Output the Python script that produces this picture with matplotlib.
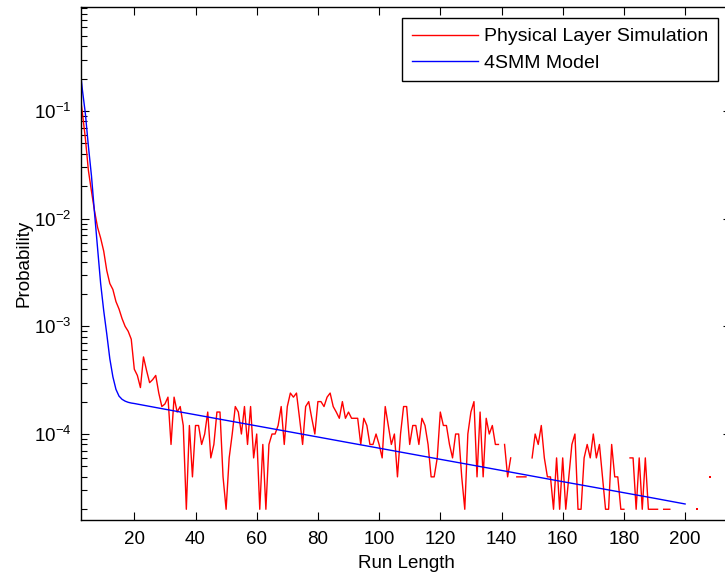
import numpy as np
import matplotlib
matplotlib.use("Agg")
import matplotlib.pyplot as plt
from matplotlib.ticker import FixedLocator, FuncFormatter, LogLocator, NullFormatter

plt.rcParams['font.family'] = ['Liberation Sans', 'DejaVu Sans']
plt.rcParams['mathtext.fontset'] = 'custom'
plt.rcParams['mathtext.rm'] = 'Liberation Sans'
plt.rcParams['axes.unicode_minus'] = False

# ---- data ----
sim_x = list(range(2, 31))
sim_head = [0.16, 0.098, 0.056, 0.028, 0.018, 0.0118, 0.0083, 0.0066, 0.0050,
            0.0033, 0.0025, 0.0022, 0.0017, 0.00145, 0.00118, 0.00100, 0.00090,
            0.00076, 0.00040, 0.00035, 0.00027, 0.00052, 0.00039, 0.00030,
            0.00032, 0.00035, 0.00024, 0.00018, 0.00019]
# run lengths 31..210, probability in units of 1e-5 (0 = no occurrence)
sim_tail_e5 = [22, 8, 22, 16, 18, 12, 2, 12, 4, 12,        # 31-40
               12, 8, 10, 16, 6, 8, 16, 16, 4, 2,          # 41-50
               6, 10, 18, 16, 10, 18, 8, 18, 6, 10,        # 51-60
               2, 8, 2, 8, 10, 10, 12, 18, 8, 18,          # 61-70
               24, 22, 24, 14, 8, 18, 20, 14, 10, 20,      # 71-80
               20, 18, 22, 24, 18, 16, 14, 20, 14, 16,     # 81-90
               14, 14, 14, 8, 14, 12, 8, 8, 10, 8,         # 91-100
               6, 18, 12, 8, 10, 4, 10, 18, 18, 8,         # 101-110
               12, 12, 8, 14, 12, 8, 4, 4, 6, 16,          # 111-120
               12, 12, 8, 6, 10, 10, 4, 2, 10, 16,         # 121-130
               20, 4, 16, 4, 14, 10, 12, 8, 8, 0,          # 131-140
               8, 4, 6, 0, 4, 4, 4, 4, 0, 6,               # 141-150
               10, 8, 12, 6, 4, 4, 2, 6, 2, 6,             # 151-160
               2, 4, 8, 10, 2, 2, 6, 8, 6, 10,             # 161-170
               6, 8, 4, 2, 2, 8, 4, 4, 2, 2,               # 171-180
               0, 6, 6, 2, 6, 2, 6, 2, 2, 2,               # 181-190
               2, 0, 2, 2, 2, 0, 0, 0, 0, 0,               # 191-200
               0, 0, 0, 2, 0, 0, 0, 4, 0, 0]               # 201-210
sim_x_tail = list(range(31, 211))

model_x = [2, 3, 4, 5, 6, 7, 8, 9, 10, 11, 12, 13, 14, 15, 16, 17, 18, 19, 20,
           30, 40, 50, 60, 70, 80, 90, 100, 110, 120, 130, 140, 150, 160, 170,
           180, 190, 200]
model_y = [0.30, 0.16, 0.095, 0.047, 0.025, 0.0113, 0.0053, 0.0025, 0.0014,
           8.5e-4, 5.0e-4, 3.4e-4, 2.6e-4, 2.25e-4, 2.1e-4, 2.02e-4, 1.97e-4,
           1.94e-4, 1.92e-4, 1.70e-4, 1.51e-4, 1.34e-4, 1.19e-4, 1.057e-4,
           9.38e-5, 8.32e-5, 7.39e-5, 6.56e-5, 5.82e-5, 5.17e-5, 4.59e-5,
           4.07e-5, 3.61e-5, 3.21e-5, 2.85e-5, 2.53e-5, 2.24e-5]

labels = ['Physical Layer Simulation', '4SMM Model']
x_ticks = [20, 40, 60, 80, 100, 120, 140, 160, 180, 200]
y_ticks = [1e-4, 1e-3, 1e-2, 1e-1]

# ---- build ----
sx = np.array(sim_x + sim_x_tail, dtype=float)
sy = np.array(sim_head + [v * 1e-5 for v in sim_tail_e5], dtype=float)
sy[sy <= 0] = np.nan

fig = plt.figure(figsize=(7.25, 5.73), dpi=100)
W, H = 725.0, 573.0
ax = fig.add_axes([81 / W, (H - 520) / H, 650 / W, 513 / H])

ax.plot(sx, sy, color='#ff0000', lw=1.0, label=labels[0])
ax.plot(model_x, model_y, color='#0000ff', lw=1.0, label=labels[1])

# isolated points (neighbours empty) drawn as tiny dots
valid = ~np.isnan(sy)
prev = np.r_[False, valid[:-1]]
nxt = np.r_[valid[1:], False]
iso = valid & ~prev & ~nxt
ax.plot(sx[iso], sy[iso], ls='none', marker='s', ms=1.6, mew=0, color='#ff0000')

ax.set_yscale('log')
ax.set_xlim(2.58, 215.0)
ax.set_ylim(1.59e-5, 0.925)

ax.xaxis.set_major_locator(FixedLocator(x_ticks))
ax.yaxis.set_major_locator(FixedLocator(y_ticks))
ax.yaxis.set_minor_locator(LogLocator(base=10, subs=np.arange(2, 10)))
ax.yaxis.set_minor_formatter(NullFormatter())
ax.yaxis.set_major_formatter(FuncFormatter(
    lambda v, p: r'$\mathregular{10^{%d}}$' % int(round(np.log10(v)))))

ax.tick_params(which='both', direction='in', top=True, right=True,
               labelsize=13.5, colors='black', width=0.8)
ax.tick_params(which='major', length=5.8, pad=7)
ax.tick_params(axis='x', which='major', pad=8)
ax.tick_params(which='minor', length=4)

for s in ax.spines.values():
    s.set_linewidth(1.0)
    s.set_color('black')

ax.set_xlabel('Run Length', fontsize=13.5, labelpad=5)
ax.set_ylabel('Probability', fontsize=13.5, labelpad=1)

leg = ax.legend(loc='upper right', bbox_to_anchor=(637 / 650, 0.9786),
                borderaxespad=0, fontsize=14, frameon=True, fancybox=False,
                edgecolor='black', framealpha=1, handlelength=3.4,
                handletextpad=0.3, borderpad=0.5, labelspacing=0.45)
leg.get_frame().set_linewidth(1.0)

fig.savefig('out.png', dpi=100)
